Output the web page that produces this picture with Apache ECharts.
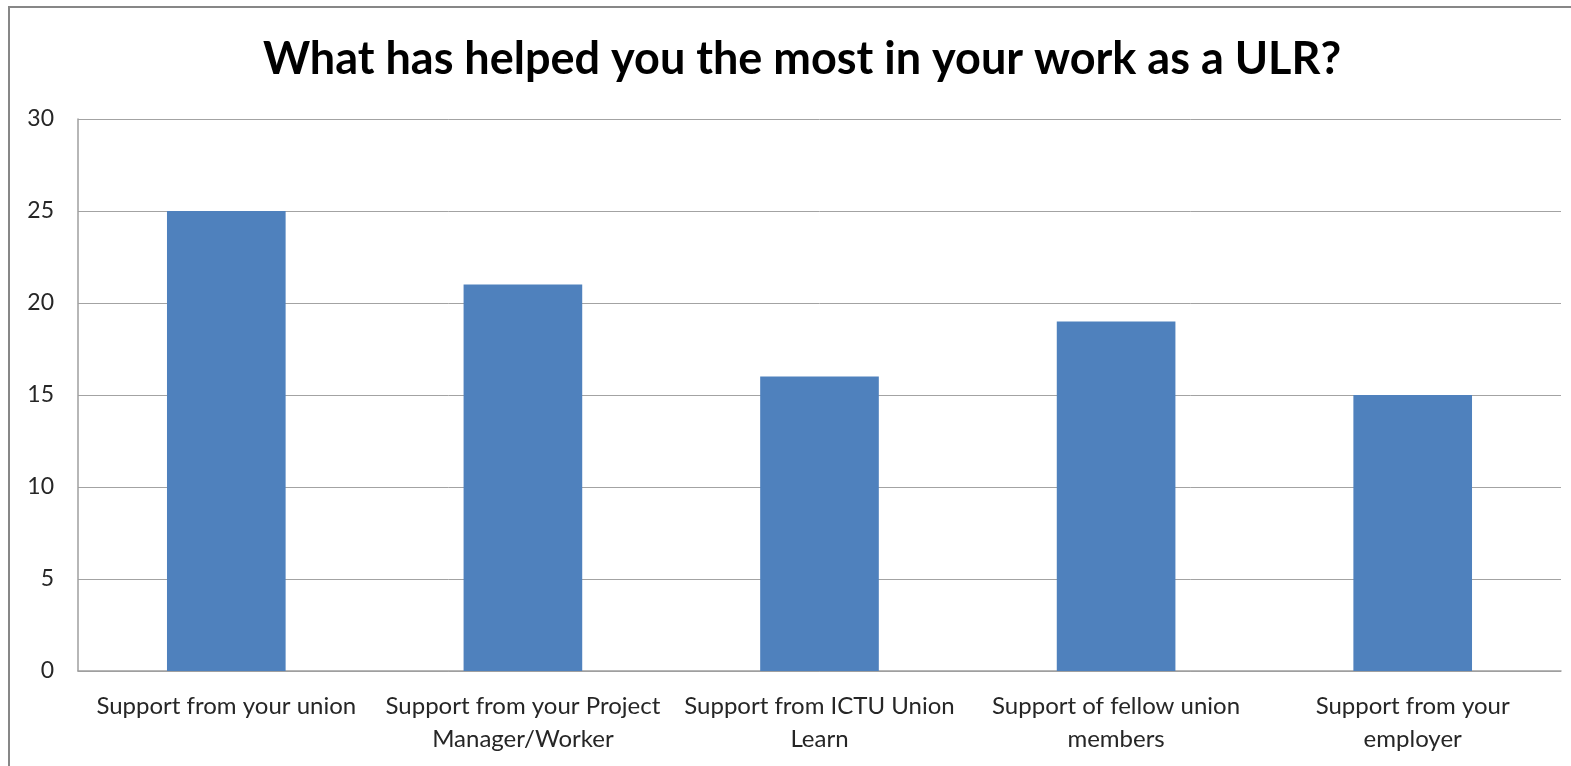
<!DOCTYPE html>
<html>
<head>
<meta charset="utf-8">
<script src="https://cdn.jsdelivr.net/npm/echarts@6/dist/echarts.min.js"></script>
<style>
html,body{margin:0;padding:0;background:#fff;}
#chart{width:1571px;height:766px;}
</style>
</head>
<body>
<div id="chart"></div>
<script>
const titleText = 'What has helped you the most in your work as a ULR?';
const categories = [
  'Support from your union',
  'Support from your Project\nManager/Worker',
  'Support from ICTU Union\nLearn',
  'Support of fellow union\nmembers',
  'Support from your\nemployer'
];
const values = [25, 21, 16, 19, 15];
const yTicks = [0, 5, 10, 15, 20, 25, 30];

const chart = echarts.init(document.getElementById('chart'), null, {renderer: 'canvas'});
chart.setOption({
  animation: false,
  backgroundColor: '#ffffff',
  graphic: [{
    type: 'rect',
    shape: {x: 9, y: 7, width: 1620, height: 820},
    style: {fill: 'none', stroke: '#878787', lineWidth: 2},
    silent: true
  }],
  title: {
    text: titleText,
    left: 797,
    textAlign: 'center',
    top: 32,
    textStyle: {fontFamily: 'Lato', fontWeight: 'bold', fontSize: 45, color: '#000000'}
  },
  grid: {left: 78, right: 10, top: 119, bottom: 95, containLabel: false},
  xAxis: {
    type: 'category',
    data: categories,
    axisLine: {lineStyle: {color: '#9f9f9f', width: 1.5}},
    axisTick: {show: false},
    axisLabel: {
      interval: 0,
      margin: 19,
      fontFamily: 'Lato',
      fontSize: 24,
      lineHeight: 33,
      color: '#262626'
    }
  },
  yAxis: {
    type: 'value',
    min: yTicks[0],
    max: yTicks[yTicks.length - 1],
    interval: 5,
    axisLine: {show: true, lineStyle: {color: '#9f9f9f', width: 1.5}},
    axisTick: {show: false},
    splitLine: {lineStyle: {color: '#a3a3a3', width: 1}},
    axisLabel: {margin: 24, fontFamily: 'Lato', fontSize: 23, color: '#262626'}
  },
  series: [{
    type: 'bar',
    data: values,
    barWidth: '40%',
    itemStyle: {color: '#4f81bd'}
  }]
});
</script>
</body>
</html>
